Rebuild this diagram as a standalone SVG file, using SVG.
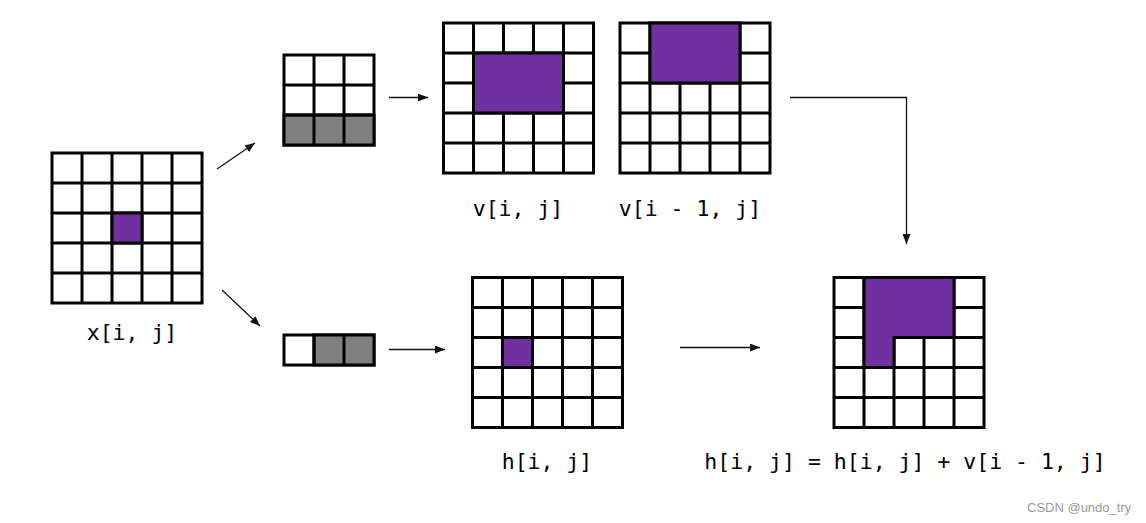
<svg xmlns="http://www.w3.org/2000/svg" xmlns:xlink="http://www.w3.org/1999/xlink" width="1146" height="523" viewBox="0 0 1146 523">
  <style>
    .grid { fill: #ffffff; stroke: #000000; stroke-width: 3; }
    .gl { fill: none; stroke: #000000; stroke-width: 3; }
    .hl { fill: #7030a0; stroke: #000000; stroke-width: 3; stroke-linejoin: miter; }
    .gray { fill: #808080; stroke: #000000; stroke-width: 3; }
    .lbl { font-family: "DejaVu Sans Mono", "Liberation Mono", monospace; font-size: 21.5px; fill: #000000; text-anchor: middle; }
    .conn { fill: none; stroke: #111111; stroke-width: 1.3; }
    .wm { font-family: "Liberation Sans", Arial, sans-serif; font-size: 13px; fill: #9a9a9a; }
  </style>
  <defs>
    <marker id="ah" markerUnits="userSpaceOnUse" markerWidth="10" markerHeight="8" refX="10" refY="4" orient="auto">
      <path d="M0,0 L10,4 L0,8 z" fill="#111111"/>
    </marker>
    <g id="g5">
      <rect class="grid" x="0" y="0" width="150" height="150"/>
      <path class="gl" d="M30,0 V150 M60,0 V150 M90,0 V150 M120,0 V150 M0,30 H150 M0,60 H150 M0,90 H150 M0,120 H150"/>
    </g>
  </defs>
  <rect x="0" y="0" width="1146" height="523" fill="#ffffff"/>

  <g id="node-x">
    <use xlink:href="#g5" x="52" y="153"/>
    <rect class="hl" x="112" y="213" width="30" height="30"/>
    <text class="lbl" x="132" y="340">x[i, j]</text>
  </g>

  <g id="node-kernel-v">
    <rect class="grid" x="284" y="55" width="90" height="90"/>
    <rect class="gray" x="284" y="115" width="90" height="30"/>
    <path class="gl" d="M314,55 V145 M344,55 V145 M284,85 H374 M284,115 H374"/>
  </g>

  <g id="node-kernel-h">
    <rect class="grid" x="284" y="335" width="90" height="30"/>
    <rect class="gray" x="314" y="335" width="60" height="30"/>
    <path class="gl" d="M314,335 V365 M344,335 V365"/>
  </g>

  <g id="node-v">
    <use xlink:href="#g5" x="443.5" y="23"/>
    <rect class="hl" x="473.5" y="53" width="90" height="60"/>
    <text class="lbl" x="518" y="215.5">v[i, j]</text>
  </g>

  <g id="node-v-prev">
    <use xlink:href="#g5" x="620" y="23"/>
    <rect class="hl" x="650" y="23" width="90" height="60"/>
    <text class="lbl" x="690" y="215.5">v[i - 1, j]</text>
  </g>

  <g id="node-h">
    <use xlink:href="#g5" x="472.5" y="277.5"/>
    <rect class="hl" x="502.5" y="337.5" width="30" height="30"/>
    <text class="lbl" x="547" y="469">h[i, j]</text>
  </g>

  <g id="node-result">
    <use xlink:href="#g5" x="834" y="277.5"/>
    <path class="hl" d="M864,277.5 H954 V337.5 H894 V367.5 H864 Z"/>
    <text class="lbl" x="905" y="469">h[i, j] = h[i, j] + v[i - 1, j]</text>
  </g>

  <g id="connectors">
    <path class="conn" marker-end="url(#ah)" d="M217,169 L255,143"/>
    <path class="conn" marker-end="url(#ah)" d="M389,97.5 L428,97.5"/>
    <path class="conn" marker-end="url(#ah)" d="M222,290 L260,326"/>
    <path class="conn" marker-end="url(#ah)" d="M389,349.5 L445,349.5"/>
    <path class="conn" marker-end="url(#ah)" d="M680,347.5 L760,347.5"/>
    <path class="conn" marker-end="url(#ah)" d="M790,97.5 H906.5 V244"/>
  </g>

  <text class="wm" x="1027" y="512">CSDN @undo_try</text>
</svg>
